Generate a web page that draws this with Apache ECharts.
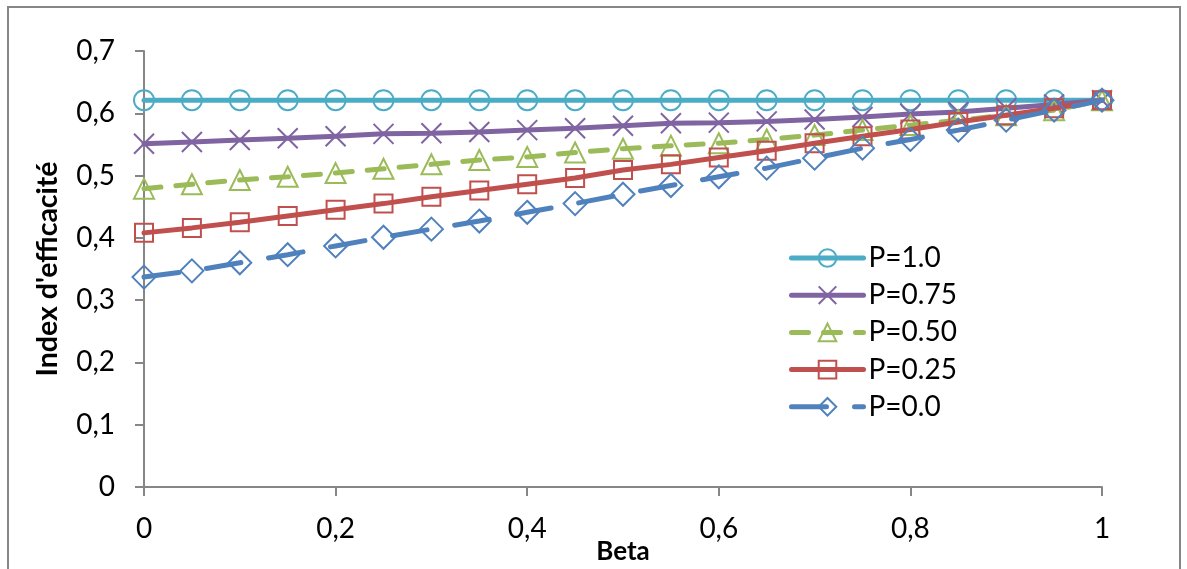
<!DOCTYPE html>
<html>
<head>
<meta charset="utf-8">
<script src="https://cdn.jsdelivr.net/npm/echarts@6/dist/echarts.min.js"></script>
<style>
html,body{margin:0;padding:0;background:#fff;}
#chart{width:1187px;height:569px;}
</style>
</head>
<body>
<div id="chart"></div>
<script>
// Data
const beta = [0,0.05,0.1,0.15,0.2,0.25,0.3,0.35,0.4,0.45,0.5,0.55,0.6,0.65,0.7,0.75,0.8,0.85,0.9,0.95,1];
const seriesNames = ['P=1.0','P=0.75','P=0.50','P=0.25','P=0.0'];
const p100 = [0.621,0.621,0.621,0.621,0.621,0.621,0.621,0.621,0.621,0.621,0.621,0.621,0.621,0.621,0.621,0.621,0.621,0.621,0.621,0.621,0.621];
const p075 = [0.551,0.554,0.557,0.560,0.563,0.567,0.568,0.570,0.573,0.576,0.580,0.584,0.585,0.587,0.590,0.594,0.599,0.602,0.608,0.614,0.621];
const p050 = [0.479,0.486,0.493,0.498,0.504,0.511,0.518,0.525,0.530,0.537,0.543,0.548,0.552,0.558,0.565,0.573,0.581,0.589,0.597,0.605,0.621];
const p025 = [0.408,0.416,0.425,0.435,0.445,0.455,0.466,0.476,0.486,0.496,0.509,0.518,0.529,0.540,0.552,0.563,0.574,0.586,0.597,0.608,0.621];
const p000 = [0.337,0.347,0.360,0.373,0.387,0.401,0.414,0.427,0.441,0.455,0.470,0.484,0.498,0.512,0.528,0.544,0.558,0.573,0.589,0.605,0.621];
const xTicks = [0,0.2,0.4,0.6,0.8,1];
const yTicks = [0,0.1,0.2,0.3,0.4,0.5,0.6,0.7];
const xTitle = 'Beta';
const yTitle = "Index d'efficacité";

const FONT = 'Lato, "Open Sans", sans-serif';
const fmt = v => String(+v.toFixed(2)).replace('.', ',');
const pairs = arr => beta.map((b,i)=>[b,arr[i]]);

const styles = [
  {color:'#4BACC6', symbol:'circle', size:20, dash:'solid'},
  {color:'#8064A2', symbol:'path://M0,0L10,10M10,0L0,10', size:20, dash:'solid'},
  {color:'#9BBB59', symbol:'triangle', size:20, dash:[17,15]},
  {color:'#C0504D', symbol:'rect', size:18, dash:'solid'},
  {color:'#4F81BD', symbol:'diamond', size:23, dash:[35,28]}
];
const values = [p100,p075,p050,p025,p000];

const chart = echarts.init(document.getElementById('chart'), null, {renderer:'canvas'});
chart.setOption({
  animation:false,
  backgroundColor:'#fff',
  textStyle:{fontFamily:FONT},
  grid:{left:144, right:85, top:51, bottom:82, containLabel:false, outerBoundsMode:'none'},
  graphic:[{
    type:'rect', shape:{x:8, y:7, width:1172, height:600},
    style:{fill:'none', stroke:'#868686', lineWidth:2}, silent:true, z:-1
  }],
  legend:{
    orient:'vertical', left:784, top:239,
    itemWidth:72, itemHeight:22, itemGap:9.2,
    textStyle:{fontFamily:FONT, fontSize:28, color:'#000', lineHeight:22},
    data:seriesNames.map((n,i)=>({name:n, lineStyle:{width:5, color:styles[i].color, type:styles[i].dash, cap:'round'}}))
  },
  xAxis:{
    type:'value', min:0, max:1, interval:0.2,
    name:xTitle, nameLocation:'middle', nameGap:52, nameMoveOverlap:false,
    nameTextStyle:{fontFamily:FONT, fontSize:26, fontWeight:'bold', color:'#000'},
    axisLine:{lineStyle:{color:'#868686', width:2}},
    axisTick:{show:true, length:9, lineStyle:{color:'#868686', width:2}},
    axisLabel:{formatter:fmt, fontFamily:FONT, fontSize:28, color:'#000', margin:28},
    splitLine:{show:false}
  },
  yAxis:{
    type:'value', min:0, max:0.7, interval:0.1,
    name:yTitle, nameLocation:'middle', nameGap:82, nameRotate:90, nameMoveOverlap:false,
    nameTextStyle:{fontFamily:FONT, fontSize:28.5, fontWeight:'bold', color:'#000'},
    axisLine:{show:true, lineStyle:{color:'#868686', width:2}},
    axisTick:{show:true, length:9, lineStyle:{color:'#868686', width:2}},
    axisLabel:{formatter:fmt, fontFamily:FONT, fontSize:28, color:'#000', margin:29},
    splitLine:{show:false}
  },
  series: seriesNames.map((name,i)=>({
    name, type:'line', data:pairs(values[i]),
    symbol:styles[i].symbol, symbolSize:styles[i].size, showSymbol:true,
    lineStyle:{color:styles[i].color, width:5, type:styles[i].dash, cap:'round'},
    itemStyle:{color:'rgba(255,255,255,0)', borderColor:styles[i].color, borderWidth:2},
    z:2+i
  }))
});
</script>
</body>
</html>
